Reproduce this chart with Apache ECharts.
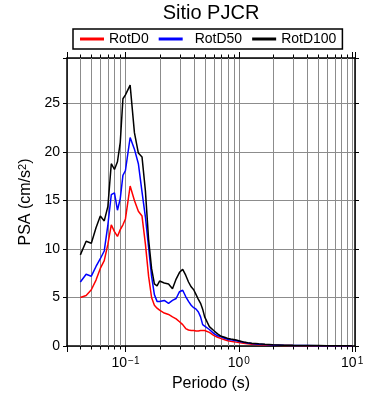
<!DOCTYPE html>
<html>
<head>
<meta charset="utf-8">
<script src="https://cdn.jsdelivr.net/npm/echarts@6/dist/echarts.min.js"></script>
<style>
html, body { margin: 0; padding: 0; background: #fff; }
#container { width: 390px; height: 400px; }
</style>
</head>
<body>
<div id="container"></div>
<script>
var dom = document.getElementById("container");
var myChart = echarts.init(dom);

// periodos (s)
var periods = [0.040, 0.045, 0.050, 0.055, 0.060, 0.065, 0.070, 0.075, 0.080, 0.085, 0.090, 0.095,
    0.10, 0.11, 0.12, 0.13, 0.14, 0.15, 0.16, 0.17, 0.18, 0.19,
    0.20, 0.22, 0.24, 0.26, 0.28, 0.30, 0.32, 0.34, 0.36, 0.38,
    0.40, 0.42, 0.44, 0.46, 0.48, 0.50, 0.55, 0.60, 0.65, 0.70, 0.75, 0.80, 0.85, 0.90, 0.95,
    1.0, 1.1, 1.2, 1.3, 1.5, 1.7, 2.0, 2.5, 3.0, 4.0, 5.0, 6.0, 7.5, 10];

var rotD0 = [5.0, 5.2, 5.8, 6.8, 8.0, 8.8, 10.5, 12.5, 11.8, 11.3, 12.0, 12.5,
    13.1, 16.5, 15.0, 13.9, 13.4, 10.5, 7.2, 5.0, 4.2, 3.9,
    3.7, 3.4, 3.25, 3.0, 2.8, 2.5, 2.2, 1.8, 1.65, 1.6,
    1.6, 1.55, 1.55, 1.6, 1.6, 1.6, 1.4, 1.1, 0.9, 0.76, 0.64, 0.55, 0.48, 0.43, 0.4,
    0.36, 0.28, 0.22, 0.18, 0.13, 0.1, 0.07, 0.05, 0.04, 0.03, 0.025, 0.02, 0.016, 0.013];

var rotD50 = [6.6, 7.4, 7.2, 8.2, 9.0, 9.8, 12.5, 15.6, 15.8, 14.0, 15.2, 17.6,
    18.1, 21.5, 20.3, 18.8, 15.9, 13.3, 10.2, 7.2, 5.3, 4.6,
    4.6, 4.7, 4.4, 4.7, 4.9, 5.6, 5.75, 5.1, 4.6, 4.2,
    3.95, 3.8, 3.5, 3.0, 2.2, 2.05, 1.7, 1.3, 1.05, 0.95, 0.8, 0.68, 0.64, 0.6, 0.55,
    0.5, 0.38, 0.3, 0.25, 0.19, 0.15, 0.11, 0.08, 0.06, 0.045, 0.035, 0.03, 0.022, 0.018];

var rotD100 = [9.4, 10.8, 10.6, 12.2, 13.4, 12.9, 14.4, 18.8, 18.2, 19.0, 21.0, 25.5,
    25.9, 26.9, 22.0, 19.9, 19.5, 16.0, 11.0, 8.0, 6.4, 6.2,
    6.7, 6.5, 6.4, 5.9, 6.9, 7.6, 7.9, 7.3, 6.6, 6.1,
    5.8, 5.3, 4.8, 4.4, 3.8, 3.0, 2.0, 1.6, 1.25, 1.0, 0.9, 0.78, 0.72, 0.68, 0.62,
    0.55, 0.42, 0.34, 0.28, 0.22, 0.18, 0.14, 0.09, 0.07, 0.05, 0.04, 0.03, 0.025, 0.02];

// divisiones menores del eje logaritmico
var minorTicks = [0.04, 0.05, 0.06, 0.07, 0.08, 0.09,
    0.2, 0.3, 0.4, 0.5, 0.6, 0.7, 0.8, 0.9,
    2, 3, 4, 5, 6, 7, 8, 9];

var seriesNames = ['RotD0', 'RotD50', 'RotD100'];
var seriesColors = ['#ff0000', '#0000ff', '#000000'];

var FONT = 'Liberation Sans, Arial, Helvetica, sans-serif';
var GRIDCOLOR = '#8c8c8c';

function pairs(vals) {
    var res = [];
    for (var i = 0; i < periods.length; i++) {
        res.push([periods[i], vals[i]]);
    }
    return res;
}

function isDecade(v) {
    var l = Math.log(v) / Math.LN10;
    return Math.abs(l - Math.round(l)) < 1e-6;
}

var supLabel = {
    b: { fontSize: 14, fontFamily: FONT, color: '#000' },
    s: { fontSize: 10, fontFamily: FONT, color: '#000', verticalAlign: 'top', padding: [0, 0, 0, 1] }
};

var option = {
    animation: false,
    textStyle: { fontFamily: FONT, color: '#000' },
    title: {
        text: 'Sitio PJCR',
        left: 211,
        top: 3,
        padding: 0,
        textAlign: 'center',
        textStyle: { fontSize: 20, fontWeight: 'normal', fontFamily: FONT, color: '#000' }
    },
    legend: {
        left: 73,
        top: 29,
        icon: 'rect',
        itemWidth: 24,
        itemHeight: 3,
        itemGap: 10,
        padding: [3, 6, 3, 7],
        borderColor: '#000',
        borderWidth: 1.5,
        borderRadius: 0,
        textStyle: { fontSize: 14, fontFamily: FONT, color: '#000' },
        data: [
            { name: 'RotD0' },
            { name: 'RotD50', textStyle: { padding: [0, 0, 0, 7] } },
            { name: 'RotD100' }
        ]
    },
    grid: { left: 67, right: 35, top: 58, bottom: 54, containLabel: false },
    xAxis: [{
        type: 'log',
        logBase: 10,
        min: 0.0305,
        max: 10.6,
        position: 'bottom',
        name: 'Periodo (s)',
        nameLocation: 'middle',
        nameGap: 30,
        nameTextStyle: { fontSize: 16, fontFamily: FONT, color: '#000' },
        axisLine: { onZero: false, lineStyle: { color: '#000', width: 1.5 } },
        axisTick: { show: true, inside: false, length: 6, lineStyle: { color: '#000' } },
        axisLabel: {
            margin: 10,
            formatter: function (v) {
                if (!isDecade(v)) return '';
                var e = Math.round(Math.log(v) / Math.LN10);
                return '{b|10}{s|' + (e < 0 ? '\u2212' + (-e) : e) + '}';
            },
            rich: supLabel
        },
        splitLine: { show: true, lineStyle: { color: GRIDCOLOR, width: 1 } }
    }, {
        type: 'log',
        logBase: 10,
        min: 0.0305,
        max: 10.6,
        position: 'top',
        axisLine: { onZero: false, lineStyle: { color: '#000', width: 1.5 } },
        axisTick: { show: true, inside: false, length: 6, lineStyle: { color: '#000' } },
        axisLabel: { show: false },
        splitLine: { show: false }
    }],
    yAxis: [{
        type: 'value',
        min: 0,
        max: 29.7,
        interval: 5,
        position: 'left',
        name: '{a|PSA (cm/s}{s|2}{a|)}',
        nameLocation: 'middle',
        nameGap: 24,
        nameTextStyle: {
            rich: {
                a: { fontSize: 16, fontFamily: FONT, color: '#000' },
                s: { fontSize: 11, fontFamily: FONT, color: '#000', verticalAlign: 'top' }
            }
        },
        axisLine: { show: true, onZero: false, lineStyle: { color: '#000', width: 1.5 } },
        axisTick: { show: true, inside: false, length: 4, lineStyle: { color: '#000' } },
        axisLabel: {
            fontSize: 14,
            margin: 7,
            color: '#000',
            formatter: function (v) { return v % 5 === 0 ? String(v) : ''; }
        },
        splitLine: { show: true, lineStyle: { color: GRIDCOLOR, width: 1 } }
    }, {
        type: 'value',
        min: 0,
        max: 29.7,
        interval: 5,
        position: 'right',
        axisLine: { show: true, onZero: false, lineStyle: { color: '#000', width: 1.5 } },
        axisTick: { show: true, inside: false, length: 4, lineStyle: { color: '#000' } },
        axisLabel: { show: false },
        splitLine: { show: false }
    }],
    series: [{
        name: 'minor',
        type: 'custom',
        silent: true,
        clip: false,
        z: 1,
        xAxisIndex: 0,
        yAxisIndex: 0,
        encode: { x: 0, y: 1 },
        data: minorTicks.map(function (v) { return [v, 0]; }),
        renderItem: function (params, api) {
            var cs = params.coordSys;
            var x = Math.round(api.coord([api.value(0), 0])[0]) + 0.5;
            var top = cs.y, bot = cs.y + cs.height;
            return {
                type: 'group',
                children: [
                    { type: 'line', shape: { x1: x, y1: top, x2: x, y2: bot }, style: { stroke: GRIDCOLOR, lineWidth: 1 } },
                    { type: 'line', shape: { x1: x, y1: bot, x2: x, y2: bot + 3.5 }, style: { stroke: '#000', lineWidth: 1 } },
                    { type: 'line', shape: { x1: x, y1: top, x2: x, y2: top - 3.5 }, style: { stroke: '#000', lineWidth: 1 } }
                ]
            };
        }
    }].concat([rotD0, rotD50, rotD100].map(function (vals, i) {
        return {
            name: seriesNames[i],
            type: 'line',
            xAxisIndex: 0,
            yAxisIndex: 0,
            data: pairs(vals),
            showSymbol: false,
            symbol: 'none',
            color: seriesColors[i],
            lineStyle: { color: seriesColors[i], width: 1.5 },
            z: 3 + i
        };
    }))
};

myChart.setOption(option, true);
</script>
</body>
</html>
